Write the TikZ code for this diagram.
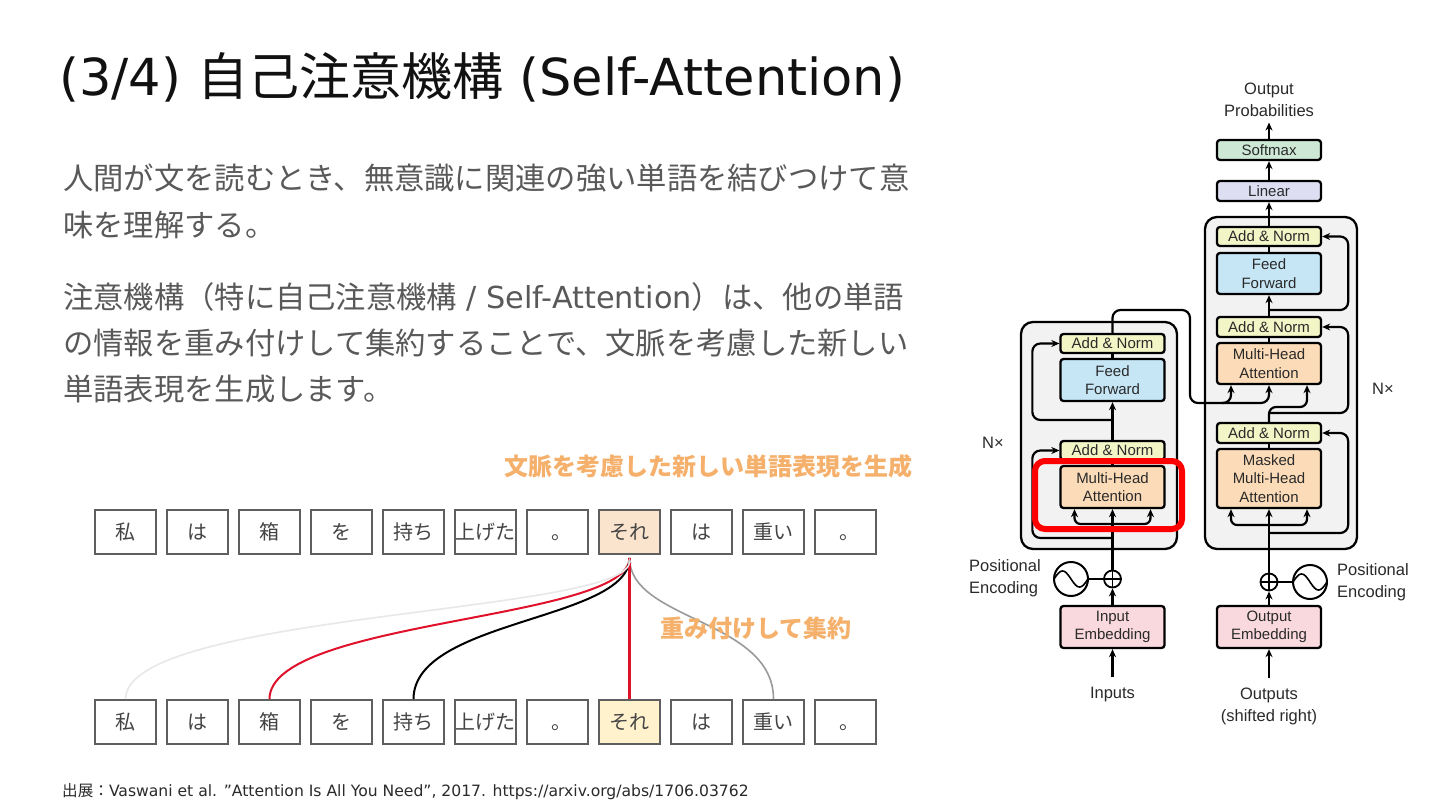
\documentclass[tikz,border=0pt]{standalone}
\usepackage{fontspec}
\setmainfont{Noto Sans CJK JP}
\newfontfamily\lat{DejaVu Sans}
\newfontfamily\hv{Liberation Sans}
\usetikzlibrary{arrows.meta,calc}
\definecolor{titlec}{HTML}{111111}
\definecolor{bodyc}{HTML}{595959}
\definecolor{tokgray}{HTML}{5F5F5F}
\definecolor{tokt}{HTML}{444444}
\definecolor{tpeach}{HTML}{FBE4CD}
\definecolor{bylw}{HTML}{FFF2CC}
\definecolor{orangel}{HTML}{F5B06B}
\definecolor{cAN}{HTML}{F2F5C6}
\definecolor{cFF}{HTML}{C6E6F6}
\definecolor{cMHA}{HTML}{FCDCB8}
\definecolor{cEmb}{HTML}{F9D9DE}
\definecolor{cSoft}{HTML}{CDE9D6}
\definecolor{cLin}{HTML}{DDDEF2}
\definecolor{contfill}{HTML}{F2F2F2}
\definecolor{dtext}{HTML}{2A2A2A}
\definecolor{redc}{HTML}{E0112B}
\definecolor{lgc}{HTML}{E8E8E8}
\definecolor{mgc}{HTML}{9A9A9A}
\newcommand{\tokdot}{\vphantom{私}\hspace*{8pt}。}
\begin{document}
\begin{tikzpicture}[x=1pt,y=-1pt,
  tok/.style={draw=tokgray, line width=1.8, minimum width=61, minimum height=44, inner sep=0,
    font=\fontsize{20}{24}\selectfont, text=tokt},
  blk/.style={draw=black, line width=2.3, rounded corners=3, minimum width=104, inner sep=0,
    align=center, font=\hv\fontsize{15}{18.5}\selectfont, text=dtext},
  lbl/.style={font=\hv\fontsize{16.5}{22}\selectfont, text=dtext, inner sep=0},
  conn/.style={line width=2.2, draw=black},
  arr/.style={conn, -{Stealth[length=8,width=7]}},
  olbl/.style={font=\bfseries\fontsize{24}{28}\selectfont, text=orangel, inner sep=0},
  bodyt/.style={anchor=west, inner sep=0, font=\fontsize{30.3}{36}\selectfont, text=bodyc},
  cont/.style={fill=contfill, draw=black, line width=2.3, rounded corners=12},
  hl/.style={draw=red, line width=6, rounded corners=10}
]
\useasboundingbox[fill=white] (0,0) rectangle (1440,810);

% ---------- title and body ----------
\node[anchor=west, inner sep=0, font=\fontsize{51}{60}\selectfont, text=titlec] (title) at (59,77)
  {{\lat (3/4) }自己注意機構{\lat\ (Self-Attention)}};
\node[bodyt] (l1) at (63,178) {人間が文を読むとき、無意識に関連の強い単語を結びつけて意};
\node[bodyt] (l2) at (63,225) {味を理解する。};
\node[bodyt] (l3) at (63,297) {注意機構（特に自己注意機構{\lat\ / Self-Attention}）は、他の単語};
\node[bodyt] (l4) at (63,343) {の情報を重み付けして集約することで、文脈を考慮した新しい};
\node[bodyt] (l5) at (63,389) {単語表現を生成します。};

% ---------- tokens ----------
\foreach \t/\f [count=\i from 0] in {私/white,は/white,箱/white,を/white,持ち/white,上げた/white,\tokdot/white,それ/tpeach,は/white,重い/white,\tokdot/white}
  \node[tok, fill=\f] (t\i) at ({125.5+72*\i},532) {\t};
\foreach \t/\f [count=\i from 0] in {私/white,は/white,箱/white,を/white,持ち/white,上げた/white,\tokdot/white,それ/bylw,は/white,重い/white,\tokdot/white}
  \node[tok, fill=\f] (b\i) at ({125.5+72*\i},722) {\t};

\coordinate (conv) at ([yshift=-3]t7.south);
\draw[redc, line width=2] (b2.north) .. controls +(0,-80) and +(0,63) .. (conv);
\draw[black, line width=2] (b4.north) .. controls +(0,-80) and +(0,63) .. (conv);
\draw[mgc, line width=1.6] (b9.north) .. controls +(0,-80) and +(0,63) .. (conv);
\draw[redc, line width=2.2] (b7.north) -- (conv);
\draw[lgc, line width=1.6, -{Stealth[length=6,width=5,color=gray!45]}] (b0.north) .. controls +(0,-87) and +(0,56) .. (conv);

\node[olbl, anchor=east] (lab1) at (913,466) {文脈を考慮した新しい単語表現を生成};
\node[olbl, anchor=west] (lab2) at (660,628) {重み付けして集約};

\node[anchor=west, inner sep=0, font=\fontsize{15.6}{20}\selectfont, text=dtext] (src) at (62,792)
  {出展：{\lat Vaswani et al. ”Attention Is All You Need”, 2017. https://arxiv.org/abs/1706.03762}};

% ---------- transformer ----------
\draw[cont] (1021,322) rectangle (1177,549);
\draw[cont] (1205,217) rectangle (1357,549);

% decoder blocks
\node[blk, fill=cSoft, minimum height=20] (soft) at (1269,150) {Softmax};
\node[blk, fill=cLin, minimum height=20] (lin) at (1269,191) {Linear};
\node[blk, fill=cAN, minimum height=19] (an3) at (1269,236.5) {Add \& Norm};
\node[blk, fill=cFF, minimum height=41] (ffd) at (1269,273.5) {Feed\\Forward};
\node[blk, fill=cAN, minimum height=20] (an2) at (1269,327) {Add \& Norm};
\node[blk, fill=cMHA, minimum height=41] (mhad) at (1269,363.5) {Multi-Head\\Attention};
\node[blk, fill=cAN, minimum height=20] (an1) at (1269,433) {Add \& Norm};
\node[blk, fill=cMHA, minimum height=59] (mmha) at (1269,478.5) {Masked\\Multi-Head\\Attention};
\node[blk, fill=cEmb, minimum height=42] (oemb) at (1269,627) {Output\\Embedding};

% encoder blocks
\node[blk, fill=cAN, minimum height=19] (ane2) at (1112.5,343.5) {Add \& Norm};
\node[blk, fill=cFF, minimum height=42] (ffe) at (1112.5,380) {Feed\\Forward};
\node[blk, fill=cAN, minimum height=19] (ane1) at (1112.5,450.5) {Add \& Norm};
\node[blk, fill=cMHA, minimum height=42] (mhae) at (1112.5,487) {Multi-Head\\Attention};
\node[blk, fill=cEmb, minimum height=42] (iemb) at (1112.5,627) {Input\\Embedding};

% positional encodings
\tikzset{plus/.style={circle, draw=black, fill=white, line width=1.8, minimum size=17, inner sep=0,
  path picture={\draw[line width=1.4] (path picture bounding box.north) -- (path picture bounding box.south)
  (path picture bounding box.west) -- (path picture bounding box.east);}},
  sine/.style={circle, draw=black, fill=white, line width=2, minimum size=34, inner sep=0}}
\node[plus] (pe) at (1112.5,579) {};
\node[sine] (se) at (1071,579) {};
\draw[line width=1.6, shift={(se.center)}] plot[domain=-17:17, samples=41, smooth] (\x, {8*sin(\x*360/34)});
\node[plus] (pd) at (1269,582) {};
\node[sine] (sd) at (1310,582) {};
\draw[line width=1.6, shift={(sd.center)}] plot[domain=-17:17, samples=41, smooth] (\x, {8*sin(\x*360/34)});

% labels
\node[lbl, align=center] (outp) at (1269,99.5) {Output\\Probabilities};
\node[lbl, align=left, anchor=west] (pel) at (969,578) {Positional\\Encoding};
\node[lbl, align=left, anchor=west] (pdl) at (1337,582) {Positional\\Encoding};
\node[lbl] (nxe) at (993,443) {N×};
\node[lbl] (nxd) at (1383,389) {N×};
\node[lbl] (inp) at (1112.5,695) {Inputs};
\node[lbl, align=center] (outs) at (1269,706) {Outputs\\(shifted right)};

% encoder connectors
\coordinate (e3) at (1112.5,524);
\coordinate (er1) at (1112.5,538);
\coordinate (er2) at (1112.5,420);
\draw[arr] ([yshift=10]inp.north) -- (iemb.south);
\draw[arr] (iemb.north) -- (pe.south);
\draw[conn] (se.east) -- (pe.west);
\draw[arr] (pe.north) -- (mhae.south);
\draw[arr, rounded corners=6] (e3) -| ([xshift=-38]mhae.south);
\draw[arr, rounded corners=6] (e3) -| ([xshift=38]mhae.south);
\draw[arr, rounded corners=8] (er1) -| ([xshift=-27]ane1.west) -- (ane1.west);
\draw[conn] (mhae.north) -- (ane1.south);
\draw[arr] (ane1.north) -- (ffe.south);
\draw[arr, rounded corners=8] (er2) -| ([xshift=-27]ane2.west) -- (ane2.west);
\draw[conn] (ffe.north) -- (ane2.south);
\coordinate (eo1) at (1112.5,310);
\coordinate (eo2) at (1190,310);
\coordinate (eo3) at (1190,403);
\coordinate (eo4) at (1222,403);
\draw[arr, rounded corners=8] (ane2.north) -- (eo1) -- (eo2) -- (eo3) -| ([xshift=-38]mhad.south);
\draw[arr, rounded corners=8] (eo4) -| (mhad.south);

% decoder connectors
\coordinate (d3) at (1269,525);
\coordinate (dr1) at (1269,533);
\coordinate (dr2) at (1269,413);
\coordinate (dq) at (1269,407);
\coordinate (dr3) at (1269,310);
\draw[arr] ([yshift=9]outs.north) -- (oemb.south);
\draw[arr] (oemb.north) -- (pd.south);
\draw[conn] (sd.west) -- (pd.east);
\draw[arr] (pd.north) -- (mmha.south);
\draw[arr, rounded corners=6] (d3) -| ([xshift=-38]mmha.south);
\draw[arr, rounded corners=6] (d3) -| ([xshift=38]mmha.south);
\draw[arr, rounded corners=8] (dr1) -| ([xshift=26]an1.east) -- (an1.east);
\draw[conn] (mmha.north) -- (an1.south);
\draw[arr, rounded corners=7] (an1.north) -- (dq) -| ([xshift=38]mhad.south);
\draw[arr, rounded corners=8] (dr2) -| ([xshift=26]an2.east) -- (an2.east);
\draw[conn] (mhad.north) -- (an2.south);
\draw[arr] (an2.north) -- (ffd.south);
\draw[arr, rounded corners=8] (dr3) -| ([xshift=26]an3.east) -- (an3.east);
\draw[conn] (ffd.north) -- (an3.south);
\draw[arr] (an3.north) -- (lin.south);
\draw[arr] (lin.north) -- (soft.south);
\draw[arr] (soft.north) -- ([yshift=-6]outp.south);

% highlight
\draw[hl] (1035,461) rectangle (1182,529);
\end{tikzpicture}
\end{document}
